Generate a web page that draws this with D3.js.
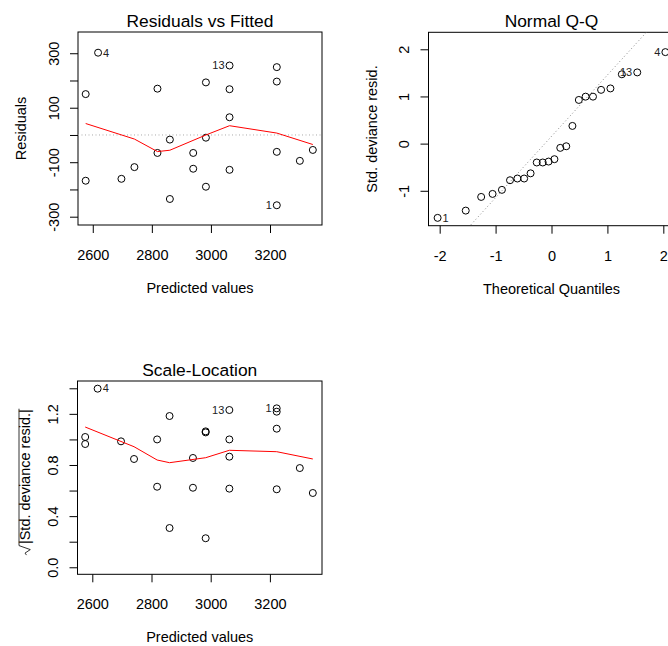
<!DOCTYPE html>
<html>
<head>
<meta charset="utf-8">
<script src="https://cdnjs.cloudflare.com/ajax/libs/d3/7.8.5/d3.min.js"></script>
<style>
  body { margin: 0; background: #fff; }
  svg { font-family: "Liberation Sans", Arial, Helvetica, sans-serif; }
</style>
</head>
<body>
<div id="chart"></div>
<script>
var fitted = [2576, 2576, 2618, 2697, 2741, 2819, 2819, 2861, 2861, 2940, 2940, 2983,
  2983, 2983, 3063, 3063, 3063, 3063, 3223, 3223, 3223, 3223, 3301, 3345];
var residuals = [150, -168, 302, -161, -118, 170, -66, -17, -235, -66, -124, 193,
  -10, -190, 255, 168, 65, -128, 249, 196, -62, -258, -95, -55];
var sqrtStdResid = [0.964, 1.019, 1.397, 0.985, 0.847, 1.0, 0.63, 0.307, 1.183, 0.622, 0.855, 1.063,
  0.227, 1.055, 1.23, 1.0, 0.615, 0.865, 1.217, 1.084, 0.61, 1.243, 0.776, 0.581];

// smoother (red line)
var smoothX = [2576, 2741, 2819, 2861, 2983, 3063, 3223, 3345];
var smoothResid = [42, -15, -61, -56, 0, 34, 7, -35];
var smoothScale = [1.097, 0.943, 0.839, 0.818, 0.857, 0.915, 0.904, 0.847];

// normal Q-Q
var theoQuantiles = [-2.037, -1.534, -1.258, -1.054, -0.887, -0.742, -0.61, -0.489, -0.374, -0.264,
  -0.157, -0.052, 0.052, 0.157, 0.264, 0.374, 0.489, 0.61, 0.742, 0.887, 1.054, 1.258, 1.534, 2.037];
var stdDevResid = [-1.574, -1.42, -1.13, -1.066, -0.98, -0.776, -0.74, -0.74, -0.63, -0.40,
  -0.40, -0.38, -0.33, -0.09, -0.056, 0.375, 0.926, 0.996, 0.996, 1.14, 1.17, 1.47, 1.51, 1.94];
var qqLineIntercept = 0.154;
var qqLineSlope = 1.30;

// labelled observations: index into the arrays above, label, side
var residLabels = [[2, "4", "right"], [14, "13", "left"], [21, "1", "left"]];
var qqLabels = [[0, "1", "right"], [22, "13", "left"], [23, "4", "left"]];

var fittedTicks = [2600, 2800, 3000, 3200];
var residTicks = [-300, -200, -100, 0, 100, 200, 300];
var residTickLabels = [-300, -100, 100, 300];
var qqXTicks = [-2, -1, 0, 1, 2];
var qqYTicks = [-1, 0, 1, 2];
var slTicks = [0, 0.2, 0.4, 0.6, 0.8, 1.0, 1.2, 1.4];
var slTickLabels = [0, 0.4, 0.8, 1.2];

var fontSize = 14.5;

var svg = d3.select("#chart")
  .append("svg")
  .attr("width", 668)
  .attr("height", 646);

function inList(list, d) {
  return list.some(v => Math.abs(v - d) < 1e-9);
}

// plain hyphen minus, like R
function intFormat(d) {
  return String(Math.round(d));
}

// draws box, axes, titles; returns scales and group
function drawPanel(p) {
  var x = d3.scaleLinear().domain(p.xDomain).range([p.left, p.right]);
  var y = d3.scaleLinear().domain(p.yDomain).range([p.bottom, p.top]);
  var g = svg.append("g");

  var xAxis = g.append("g")
    .attr("transform", `translate(0, ${p.bottom})`)
    .call(d3.axisBottom(x).tickValues(p.xTicks).tickSize(8).tickFormat(p.xFormat));
  xAxis.attr("font-size", fontSize).attr("font-family", null);
  xAxis.select(".domain").remove();
  xAxis.selectAll("text")
    .attr("y", 35)
    .attr("dy", null)
    .attr("fill", "#000");

  var yAxis = g.append("g")
    .attr("transform", `translate(${p.left}, 0)`)
    .call(d3.axisLeft(y).tickValues(p.yTicks).tickSize(8).tickFormat(p.yFormat));
  yAxis.attr("font-size", fontSize).attr("font-family", null);
  yAxis.select(".domain").remove();
  yAxis.selectAll("text")
    .attr("transform", "rotate(-90)")
    .attr("x", 0)
    .attr("y", -19.5)
    .attr("dy", null)
    .attr("text-anchor", "middle")
    .attr("fill", "#000");

  g.append("rect")
    .attr("x", p.left)
    .attr("y", p.top)
    .attr("width", p.right - p.left)
    .attr("height", p.bottom - p.top)
    .attr("fill", "none")
    .attr("stroke", "#000")
    .attr("stroke-width", 1);

  g.append("text")
    .attr("x", (p.left + p.right) / 2)
    .attr("y", p.top - 5.5)
    .attr("text-anchor", "middle")
    .attr("font-size", fontSize * 1.2)
    .text(p.title);

  g.append("text")
    .attr("x", (p.left + p.right) / 2)
    .attr("y", p.bottom + 68)
    .attr("text-anchor", "middle")
    .attr("font-size", fontSize)
    .text(p.xLabel);

  if (p.yLabel) {
    g.append("text")
      .attr("transform", `translate(${p.left - 52}, ${(p.top + p.bottom) / 2}) rotate(-90)`)
      .attr("text-anchor", "middle")
      .attr("font-size", fontSize)
      .text(p.yLabel);
  }

  return { x: x, y: y, g: g };
}

function drawPoints(pan, xs, ys) {
  pan.g.append("g").selectAll("circle")
    .data(xs)
    .enter()
    .append("circle")
    .attr("cx", d => pan.x(d))
    .attr("cy", (d, i) => pan.y(ys[i]))
    .attr("r", 3.5)
    .attr("fill", "none")
    .attr("stroke", "#000")
    .attr("stroke-width", 1);
}

function drawLabels(pan, xs, ys, labels) {
  pan.g.append("g").selectAll("text")
    .data(labels)
    .enter()
    .append("text")
    .attr("x", d => pan.x(xs[d[0]]) + (d[2] === "right" ? 5 : -5))
    .attr("y", d => pan.y(ys[d[0]]) + 3.8)
    .attr("text-anchor", d => d[2] === "right" ? "start" : "end")
    .attr("font-size", 11)
    .attr("fill", "#222")
    .text(d => d[1]);
}

function drawSmooth(pan, xs, ys) {
  var line = d3.line()
    .x(d => pan.x(d))
    .y((d, i) => pan.y(ys[i]));
  pan.g.append("path")
    .attr("d", line(xs))
    .attr("fill", "none")
    .attr("stroke", "red")
    .attr("stroke-width", 1);
}

// Residuals vs Fitted
var p1 = drawPanel({
  left: 78, right: 322, top: 32, bottom: 225,
  xDomain: [2550, 3376], yDomain: [-330.5, 378],
  xTicks: fittedTicks, yTicks: residTicks,
  xFormat: intFormat,
  yFormat: d => inList(residTickLabels, d) ? intFormat(d) : "",
  title: "Residuals vs Fitted", xLabel: "Predicted values", yLabel: "Residuals"
});
p1.g.append("line")
  .attr("x1", 78).attr("x2", 322)
  .attr("y1", p1.y(0)).attr("y2", p1.y(0))
  .attr("stroke", "#aaa")
  .attr("stroke-dasharray", "1,2.5");
drawPoints(p1, fitted, residuals);
drawSmooth(p1, smoothX, smoothResid);
drawLabels(p1, fitted, residuals, residLabels);

// Normal Q-Q
var p2 = drawPanel({
  left: 428.5, right: 674.5, top: 32.3, bottom: 225.7,
  xDomain: [-2.2, 2.2], yDomain: [-1.74, 2.36],
  xTicks: qqXTicks, yTicks: qqYTicks,
  xFormat: intFormat, yFormat: intFormat,
  title: "Normal Q-Q", xLabel: "Theoretical Quantiles", yLabel: "Std. deviance resid."
});
svg.append("clipPath").attr("id", "qqclip")
  .append("rect")
  .attr("x", 428.5).attr("y", 32.3)
  .attr("width", 246).attr("height", 193.4);
p2.g.append("line")
  .attr("clip-path", "url(#qqclip)")
  .attr("x1", p2.x(-2.2)).attr("y1", p2.y(qqLineIntercept + qqLineSlope * -2.2))
  .attr("x2", p2.x(2.2)).attr("y2", p2.y(qqLineIntercept + qqLineSlope * 2.2))
  .attr("stroke", "#888")
  .attr("stroke-dasharray", "1,2.5");
drawPoints(p2, theoQuantiles, stdDevResid);
drawLabels(p2, theoQuantiles, stdDevResid, qqLabels);

// Scale-Location
var p3 = drawPanel({
  left: 77.5, right: 322, top: 381, bottom: 574.3,
  xDomain: [2550, 3376], yDomain: [-0.055, 1.457],
  xTicks: fittedTicks, yTicks: slTicks,
  xFormat: intFormat,
  yFormat: d => inList(slTickLabels, d) ? d3.format(".1f")(d) : "",
  title: "Scale-Location", xLabel: "Predicted values", yLabel: null
});
drawPoints(p3, fitted, sqrtStdResid);
drawSmooth(p3, smoothX, smoothScale);
drawLabels(p3, fitted, sqrtStdResid, residLabels);

// y label with a radical sign: sqrt(|Std. deviance resid.|)
var slLab = p3.g.append("g")
  .attr("transform", `translate(29.5, ${(381 + 574.3) / 2 + 5}) rotate(-90)`);
var slText = slLab.append("text")
  .attr("font-size", fontSize)
  .attr("x", 6)
  .attr("text-anchor", "middle")
  .text("|Std. deviance resid.|");
var len = slText.node().getComputedTextLength();
var s0 = 6 - len / 2;
var hBar = -10.5;
slLab.append("path")
  .attr("d", `M${s0 - 11},-3 L${s0 - 9},-4.5 L${s0 - 5.5},0.8 L${s0 - 1.5},${hBar} L${s0 + len + 0.5},${hBar}`)
  .attr("fill", "none")
  .attr("stroke", "#000")
  .attr("stroke-width", 0.8);
</script>
</body>
</html>
